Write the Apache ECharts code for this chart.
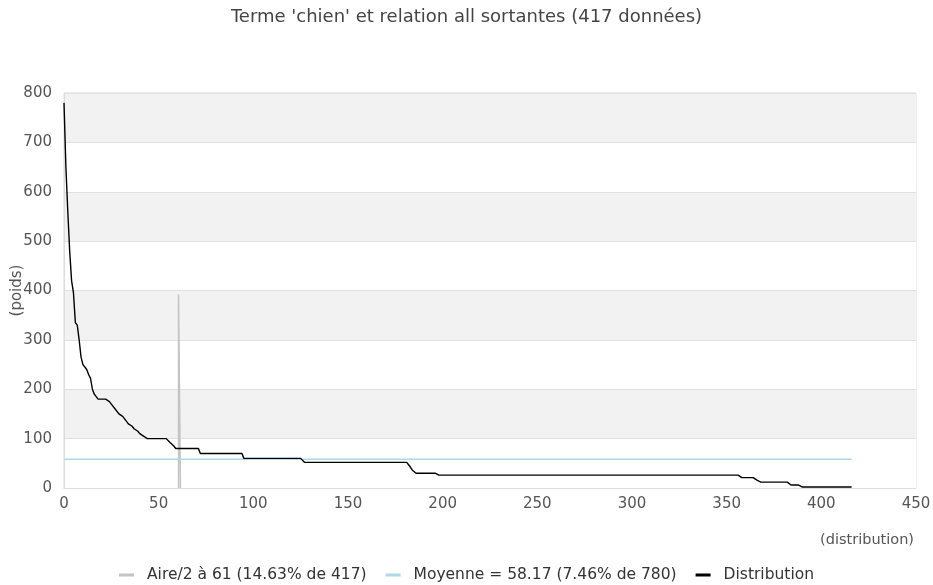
<!DOCTYPE html>
<html><head><meta charset="utf-8">
<script src="https://cdn.jsdelivr.net/npm/echarts@6/dist/echarts.min.js"></script>
<style>html,body{margin:0;padding:0;background:#fff}#c{width:933px;height:585px}</style>
</head><body><div id="c"></div>
<script>
const titleText = "Terme 'chien' et relation all sortantes (417 données)";
const xTicks = [0, 50, 100, 150, 200, 250, 300, 350, 400, 450];
const yTicks = [0, 100, 200, 300, 400, 500, 600, 700, 800];
const seriesNames = ["Aire/2 à 61 (14.63% de 417)", "Moyenne = 58.17 (7.46% de 780)", "Distribution"];
// Distribution: first values read individually
const distHead = [780, 650, 560, 480, 420, 395, 335, 330, 300, 265, 250, 245, 240, 230, 222, 200, 190, 185,
  180, 180, 180, 180, 180, 180,
  175, 170, 170, 160, 160, 150, 150, 145, 140, 140, 130, 130, 125, 120, 120, 115, 110, 110, 105, 105,
  100, 100, 100, 100, 100, 100, 100, 100, 100, 100, 100, 100,
  92, 90, 85];
// then plateaus: level and number of points
const distLevels = [80, 70, 60, 52, 47, 42, 36, 32, 30, 28, 26, 21, 16, 12, 8, 6, 2];
const distCounts = [13, 23, 32, 55, 1, 1, 1, 1, 11, 1, 160, 8, 1, 16, 1, 5, 28];
const meanValue = 58.17;
const meanRange = [0, 416];
const aireX = [60.5, 61.5];
const aireHeight = 392;

const dist = distHead.slice();
distLevels.forEach((v, i) => { for (let k = 0; k < distCounts[i]; k++) dist.push(v); });
const distData = dist.map((v, i) => [i, v]);
const meanData = meanRange.map(x => [x, meanValue]);
const aireData = [[aireX[0], 0], [aireX[0], aireHeight], [aireX[1], aireHeight], [aireX[1], 0]];

const chart = echarts.init(document.getElementById('c'), null, {renderer: 'canvas'});
const txt = '#555';
const font = 'DejaVu Sans';
chart.setOption({
  animation: false,
  backgroundColor: '#fff',
  title: {
    text: titleText, left: 'center', top: 3,
    textStyle: {fontFamily: font, fontSize: 18, fontWeight: 'normal', color: '#444'}
  },
  legend: {
    bottom: 0, left: 'center', padding: [0, 5, 2, 5], itemGap: 19, itemWidth: 15, itemHeight: 3, icon: 'rect',
    textStyle: {fontFamily: font, fontSize: 15.5, color: '#333', padding: [0, 0, 0, 8]},
    data: seriesNames
  },
  grid: {left: 64, right: 17, top: 93, bottom: 97, outerBoundsMode: 'none', containLabel: false,
    show: true, borderColor: '#ddd', borderWidth: 1, backgroundColor: 'transparent'},
  xAxis: {
    type: 'value', min: xTicks[0], max: xTicks[xTicks.length - 1], interval: 50,
    name: '(distribution)', nameLocation: 'end', nameGap: 0, nameMoveOverlap: false,
    nameTextStyle: {fontFamily: font, fontSize: 14.5, color: txt, align: 'right', verticalAlign: 'top', padding: [45, 2, 0, 0]},
    axisLine: {show: true, lineStyle: {color: '#ddd'}},
    axisTick: {show: false},
    axisLabel: {fontFamily: font, fontSize: 15, color: txt, margin: 9},
    splitLine: {show: false}
  },
  yAxis: {
    type: 'value', min: yTicks[0], max: yTicks[yTicks.length - 1], interval: 100,
    name: '(poids)', nameLocation: 'middle', nameGap: 39, nameRotate: 90, nameMoveOverlap: false,
    nameTextStyle: {fontFamily: font, fontSize: 15, color: txt},
    axisLine: {show: true, lineStyle: {color: '#ddd'}},
    axisTick: {show: false},
    axisLabel: {fontFamily: font, fontSize: 15, color: txt, margin: 12},
    splitLine: {show: true, lineStyle: {color: '#e0e0e0'}},
    splitArea: {show: true, areaStyle: {color: ['#ffffff', '#f2f2f2']}}
  },
  series: [
    {name: seriesNames[0], type: 'line', data: aireData, symbol: 'none', color: '#c4c4c4', lineStyle: {width: 1.5, color: '#c4c4c4'}},
    {name: seriesNames[1], type: 'line', data: meanData, symbol: 'none', color: '#add8e6', lineStyle: {width: 1.5, color: '#add8e6'}},
    {name: seriesNames[2], type: 'line', data: distData, symbol: 'none', color: '#000', lineStyle: {width: 1.4, color: '#000'}}
  ]
});
</script></body></html>
